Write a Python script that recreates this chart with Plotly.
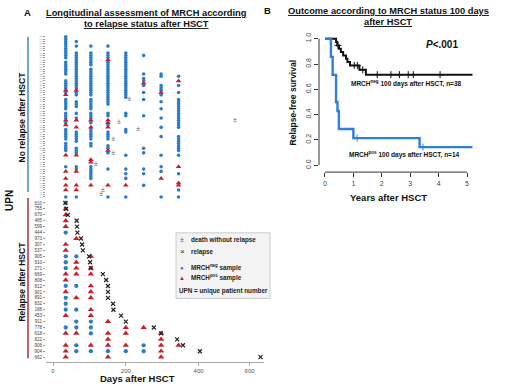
import plotly.graph_objects as go

# ================= Panel A : longitudinal MRCH samples =================
visit_days = [35, 64, 104, 151, 200, 249, 297, 345]

# No relapse after HSCT: 70 patients, top to bottom (labels unreadable in the source, estimated)
nr_upn = ["823", "741", "690", "512", "377", "958", "604", "286", "733", "815",
          "449", "692", "871", "520", "366", "947", "628", "702", "254", "839",
          "461", "588", "925", "713", "332", "646", "877", "409", "561", "998",
          "275", "684", "742", "853", "390", "527", "916", "638", "471", "805",
          "351", "760", "589", "932", "426", "679", "294", "847", "513", "768",
          "605", "382", "941", "657", "438", "724", "869", "315", "590", "783",
          "462", "896", "548", "707", "343", "625", "988", "419", "736", "554"]

# status per visit, one character per patient row: n = MRCHneg, p = MRCHpos, . = no sample
nr_d35 = "nnnnnnnnnn.nnnnnn..nnnnpnp.nnnnn.nnnpnp.nnnnn.nnnn.p....n.p..p..p.p..n"
nr_d64 = "..n.n..nnnnnnnnnnnnnnnnpnn..nnn..n.np..p.nnnnn..nnnp....nnp.....p.p..n"
nr_d104 = "....n..nnnnnn.nnnnnnnnnnnn.nnnnn.nnnpn.pnnnnn.nn.....pp.nnnnnn..p....."
nr_d151 = "....n..nnnpnnnnnnnnnnnnnnnnnnn...nn.ppnp.nnnn..nnpn......n......p....n"
nr_d200 = ".......nnnnnnnnnnnnnnnnnnnn......nn.....nn.........n.....n.n.n..p....n"
nr_d249 = "........n.......n.nnpn..n..n......n.............n.n......n.n....n....."
nr_d297 = "................nn...nnnpn..n..n...n...n...n.......n....n.n..p.......n"
nr_d345 = ".................n.p.n..n..nnnnnnnnnnnnn...nnnnnnn.n....p..n...pp.n..n"

# death without relapse (row of patient, day)
nr_death_rows = [27, 36, 37, 40, 44, 50, 55, 66, 68]
nr_death_days = [209, 543, 181, 234, 165, 165, 118, 137, 132]

# Relapse after HSCT: 27 patients, top to bottom
rel_upn = ["610", "755", "670", "485", "599", "444", "973", "307", "537", "905",
           "910", "271", "669", "808", "812", "901", "891", "832", "188", "453",
           "911", "778", "618", "822", "906", "904", "662"]
rel_status = ["n.......", "p.......", "p.......", "p.......", "p.......", "n.......",
              ".p......", "p.......", "p.......", "nnp.....", "np......", "npp.....",
              "ppp.....", "p.......", "nnp.....", "p.p.....", "npp.....", "n.......",
              "nnp.....", "p.p.....", ".nnp....", "nnn.pp..", "ppnpp.p.", "...p..p.",
              "pnpppnpp", "pnnnnnp.", "p..p..p."]
rel_relapse_day = [34, 36, 41, 65, 66, 67, 77, 80, 82, 99, 102, 104, 137, 146, 151,
                   151, 151, 165, 166, 187, 200, 277, 297, 341, 357, 405, 643]

day_ticks = [0, 200, 400, 600]

# ================= Panel B : Kaplan-Meier curves =================
neg_t = [0, 0.39, 0.43, 0.49, 0.56, 0.64, 0.74, 0.79, 0.88, 1.21, 1.44, 5.19]
neg_s = [1.0, 0.974, 0.947, 0.921, 0.895, 0.868, 0.842, 0.816, 0.789, 0.754, 0.716, 0.716]
neg_cens_t = [0.46, 1.03, 1.14, 1.33, 1.84, 2.32, 2.62, 2.93, 3.11, 4.05]

pos_t = [0, 0.21, 0.27, 0.39, 0.44, 0.49, 1.00, 3.33, 5.19]
pos_s = [1.0, 0.857, 0.714, 0.500, 0.429, 0.286, 0.214, 0.143, 0.143]
pos_cens_t = [1.13, 3.45]

year_ticks = [0, 1, 2, 3, 4, 5]
surv_ticks = [0.0, 0.2, 0.4, 0.6, 0.8, 1.0]

# ================= styling =================
W, H = 520, 387
FONT = "Arial, Liberation Sans, sans-serif"
BLUE = "#2D7DC6"
RED = "#C5202F"
KM_BLUE = "#2F7ED8"


def px(x):
    return x / W


def py(y):
    return 1 - y / H


def tx(d):
    # the original day axis is compressed beyond 400 days
    return d if d <= 400 else 400 + (d - 400) * 0.7


def surv_at(ts, ss, t):
    s = ss[0]
    for ti, si in zip(ts, ss):
        if ti <= t:
            s = si
    return s


fig = go.Figure()

# ---- no relapse panel ----
nr_visits = [nr_d35, nr_d64, nr_d104, nr_d151, nr_d200, nr_d249, nr_d297, nr_d345]
nx_, ny_, qx_, qy_ = [], [], [], []
for day, col in zip(visit_days, nr_visits):
    for r, c in enumerate(col[:len(nr_upn)]):
        if c == "n":
            nx_.append(tx(day)); ny_.append(r)
        elif c == "p":
            qx_.append(tx(day)); qy_.append(r)

fig.add_trace(go.Scatter(x=nx_, y=ny_, mode="markers", xaxis="x", yaxis="y",
                         marker=dict(symbol="circle", size=3.6, color=BLUE), showlegend=False))
fig.add_trace(go.Scatter(x=qx_, y=qy_, mode="markers", xaxis="x", yaxis="y",
                         marker=dict(symbol="triangle-up", size=5, color=RED), showlegend=False))
fig.add_trace(go.Scatter(x=[tx(d) for d in nr_death_days], y=nr_death_rows, mode="text",
                         text=["±"] * len(nr_death_rows), xaxis="x", yaxis="y",
                         textfont=dict(size=7, color="#666", family=FONT), showlegend=False))

# ---- relapse panel ----
nx_, ny_, qx_, qy_ = [], [], [], []
for r, st in enumerate(rel_status):
    for day, c in zip(visit_days, st):
        if c == "n":
            nx_.append(tx(day)); ny_.append(r)
        elif c == "p":
            qx_.append(tx(day)); qy_.append(r)

fig.add_trace(go.Scatter(x=nx_, y=ny_, mode="markers", xaxis="x2", yaxis="y2",
                         marker=dict(symbol="circle", size=4.3, color=BLUE), showlegend=False))
fig.add_trace(go.Scatter(x=qx_, y=qy_, mode="markers", xaxis="x2", yaxis="y2",
                         marker=dict(symbol="triangle-up", size=5.6, color=RED), showlegend=False))
fig.add_trace(go.Scatter(x=[tx(d) for d in rel_relapse_day], y=list(range(len(rel_upn))),
                         mode="markers", xaxis="x2", yaxis="y2",
                         marker=dict(symbol="x-thin", size=4, line=dict(width=1.2, color="#222")),
                         showlegend=False))

# ---- KM panel ----
fig.add_trace(go.Scatter(x=neg_t, y=neg_s, mode="lines", line=dict(color="#111", width=2, shape="hv"),
                         xaxis="x3", yaxis="y3", showlegend=False))
fig.add_trace(go.Scatter(x=neg_cens_t, y=[surv_at(neg_t, neg_s, t) for t in neg_cens_t], mode="markers",
                         marker=dict(symbol="cross-thin", size=5, line=dict(width=1, color="#111")),
                         xaxis="x3", yaxis="y3", showlegend=False))
fig.add_trace(go.Scatter(x=pos_t, y=pos_s, mode="lines", line=dict(color=KM_BLUE, width=2.4, shape="hv"),
                         xaxis="x3", yaxis="y3", showlegend=False))
fig.add_trace(go.Scatter(x=pos_cens_t, y=[surv_at(pos_t, pos_s, t) for t in pos_cens_t], mode="markers",
                         marker=dict(symbol="cross-thin", size=5, line=dict(width=1, color=KM_BLUE)),
                         xaxis="x3", yaxis="y3", showlegend=False))

xa_dom = [px(46), px(264)]
xa_rng = [(46 - 53) / 0.364, (264 - 53) / 0.364]

common_y = dict(showgrid=False, zeroline=False, showline=False, ticks="outside", ticklen=2,
                tickcolor="#999", tickwidth=0.6)

fig.update_layout(
    width=W, height=H, autosize=False,
    margin=dict(l=0, r=0, t=0, b=0),
    paper_bgcolor="white", plot_bgcolor="white",
    font=dict(family=FONT, color="#111"),
    xaxis=dict(domain=xa_dom, range=xa_rng, visible=False, anchor="y"),
    yaxis=dict(domain=[py(199), py(32)], range=[70.3, -1.29], anchor="x",
               tickvals=list(range(len(nr_upn))), ticktext=nr_upn,
               tickfont=dict(size=1.9, color="#888"), **common_y),
    xaxis2=dict(domain=xa_dom, range=xa_rng, anchor="y2", showgrid=False, zeroline=False,
                showline=True, linecolor="#aaa", linewidth=1, ticks="outside", ticklen=3,
                tickcolor="#aaa", tickvals=[tx(d) for d in day_ticks],
                ticktext=[str(d) for d in day_ticks], tickfont=dict(size=6, color="#555")),
    yaxis2=dict(domain=[py(362), py(199)], range=[26.84, -0.5], anchor="x2",
                tickvals=list(range(len(rel_upn))), ticktext=rel_upn,
                tickfont=dict(size=4.6, color="#444"), **common_y),
    xaxis3=dict(domain=[px(319), px(475)], range=[-0.21, 5.28], anchor="y3", showgrid=False,
                zeroline=False, showline=False, ticks="outside", ticklen=4, tickcolor="#333",
                tickvals=year_ticks, tickfont=dict(size=7, color="#444")),
    yaxis3=dict(domain=[py(171), py(33)], range=[-0.055, 1.031], anchor="x3", showgrid=False,
                zeroline=False, showline=False, ticks="outside", ticklen=4, tickcolor="#333",
                tickvals=surv_ticks, ticktext=["%.1f" % v for v in surv_ticks], tickangle=-90,
                tickfont=dict(size=7, color="#444")),
)

shapes = [
    dict(type="line", xref="x3", yref="y3 domain", x0=0, x1=5, y0=0, y1=0,
         line=dict(color="#333", width=1)),
    dict(type="line", xref="x3 domain", yref="y3", x0=0, x1=0, y0=0, y1=1,
         line=dict(color="#333", width=1)),
    dict(type="line", xref="paper", yref="paper", x0=px(28), x1=px(28), y0=py(35), y1=py(191),
         line=dict(color="#3F88C5", width=1.5)),
    dict(type="line", xref="paper", yref="paper", x0=px(28), x1=px(28), y0=py(197), y1=py(358),
         line=dict(color="#A8323A", width=1.5)),
    dict(type="rect", xref="paper", yref="paper", x0=px(176), x1=px(270), y0=py(298), y1=py(232),
         fillcolor="#f3f3f3", line=dict(color="#cccccc", width=1), layer="above"),
]
fig.update_layout(shapes=shapes)


def ann(text, x, y, size, xanchor="center", angle=0, color="#111"):
    fig.add_annotation(text=text, x=px(x), y=py(y), xref="paper", yref="paper", showarrow=False,
                       xanchor=xanchor, yanchor="middle", textangle=angle,
                       font=dict(size=size, color=color, family=FONT))


# titles
ann("<b>A</b>", 27, 11, 9.5)
ann("<b><u>Longitudinal assessment of MRCH according</u></b>", 146, 11, 9.3)
ann("<b><u>to relapse status after HSCT</u></b>", 146, 22, 9.3)
ann("<b>B</b>", 267, 9, 9.5)
ann("<b><u>Outcome according to MRCH status 100 days</u></b>", 388, 9, 9.3)
ann("<b><u>after HSCT</u></b>", 388, 20, 9.3)

# panel A labels
ann("<b>UPN</b>", 10, 200, 10, angle=-90)
ann("<b>No relapse after HSCT</b>", 22, 116, 8.5, angle=-90)
ann("<b>Relapse after HSCT</b>", 22, 281, 8.5, angle=-90)
ann("<b>Days after HSCT</b>", 137, 378, 9.5)

# legend of panel A
ann("±", 182, 239, 7, color="#555")
ann("<b>death without relapse</b>", 189, 239, 6.3, xanchor="left", color="#222")
ann("×", 182, 251, 8, color="#222")
ann("<b>relapse</b>", 189, 251, 6.3, xanchor="left", color="#222")
ann("●", 182, 267, 6, color=BLUE)
ann("<b>MRCH<sup>neg</sup> sample</b>", 189, 267, 6.3, xanchor="left", color="#222")
ann("▲", 182, 277, 6, color=RED)
ann("<b>MRCH<sup>pos</sup> sample</b>", 189, 277, 6.3, xanchor="left", color="#222")
ann("<b>UPN = unique patient number</b>", 177, 290, 6.3, xanchor="left", color="#222")

# panel B labels
ann("<b><i>P</i>&lt;.001</b>", 442, 43, 10)
ann("<b>MRCH<sup>neg</sup> 100 days after HSCT, n=38</b>", 406, 82, 6.5)
ann("<b>MRCH<sup>pos</sup> 100 days after HSCT, n=14</b>", 404, 153, 6.5)
ann("<b>Years after HSCT</b>", 388, 197, 9.5)
ann("<b>Relapse-free survival</b>", 293, 101, 8.5, angle=-90)

fig.write_html("out.html", config={"displayModeBar": False},
               post_script="document.body.style.margin='0';document.body.style.overflow='hidden';")
